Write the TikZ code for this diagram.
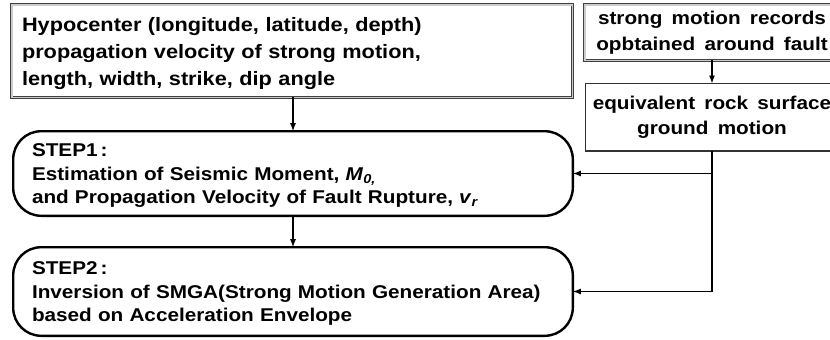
\documentclass[tikz,border=0pt]{standalone}
\usepackage{fontspec}
\setmainfont{Liberation Sans}[FakeStretch=1.12, WordSpace=1.6]
\usetikzlibrary{arrows.meta}
\begin{document}
\begin{tikzpicture}[x=1pt,y=-1pt,
  dbox/.style={draw=black!75, line width=0.9pt, double=black!20, double distance=1.6pt, fill=white, rectangle, inner sep=0pt, outer sep=0pt, font=\bfseries\fontsize{18.5}{26}\selectfont},
  sbox/.style={draw=black!80, line width=1.1pt, fill=white, rectangle, inner sep=0pt, outer sep=0pt, font=\bfseries\fontsize{18.5}{25}\selectfont},
  stepbox/.style={draw=black, line width=2.4pt, rounded corners=28pt, fill=white, rectangle, inner sep=0pt, outer sep=0pt, text width=522pt, align=left, minimum width=559.6pt, font=\bfseries\fontsize{18.5}{23.5}\selectfont},
  arr/.style={draw=black, line width=1.2pt, -{Latex[length=8pt,width=6pt]}}
]
\useasboundingbox (0,0) rectangle (830,340);
\clip (0,0) rectangle (830,340);
\node[dbox, font=\bfseries\fontsize{19.4}{27}\selectfont, minimum width=560.6pt, minimum height=92.6pt, text width=540pt, align=left] (A) at (292,51)
  {\rule{0pt}{19pt}Hypocenter (longitude, latitude, depth)\\propagation velocity of strong motion,\\length, width, strike, dip angle};
\node[dbox, minimum width=254.6pt, minimum height=55.6pt, align=center] (B) at (712,32.5)
  {strong motion records\\opbtained around fault};
\node[sbox, minimum width=253pt, minimum height=67.5pt, align=center] (C) at (712,117.25)
  {equivalent rock surface\\ground motion};
\node[stepbox, minimum height=84.6pt] (S1) at (293,173.5)
  {\rule{0pt}{17pt}STEP1\hspace{3pt}:\\Estimation of Seismic Moment, \textit{M}\textsubscript{\textit{0,}}\\and Propagation Velocity of Fault Rupture, \textit{v}\textsubscript{\textit{r}}};
\node[stepbox, minimum height=88.6pt] (S2) at (293,291.5)
  {\rule{0pt}{17pt}STEP2\hspace{3pt}:\\Inversion of SMGA(Strong Motion Generation Area)\\based on Acceleration Envelope};
\draw[arr] (A.south -| S1.north) -- (S1.north);
\draw[arr] (S1.south) -- (S2.north);
\draw[arr] (B.south) -- (C.north);
\draw[arr] (C.south) |- (S2.east);
\draw[arr] (C.south |- S1.east) -- (S1.east);
\end{tikzpicture}
\end{document}
